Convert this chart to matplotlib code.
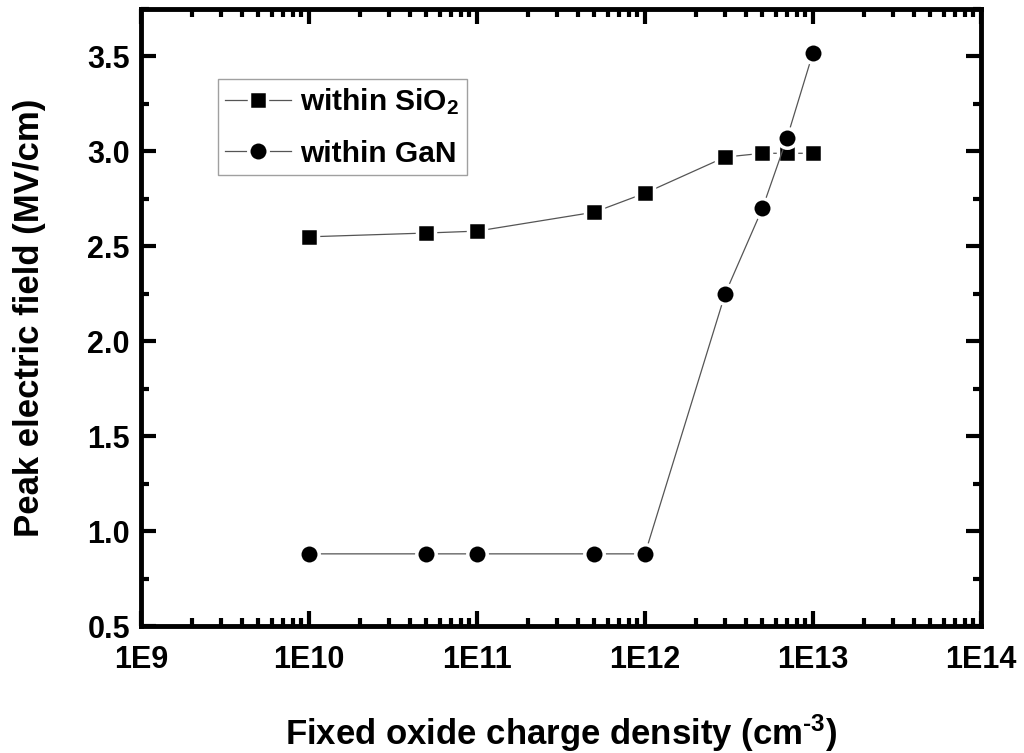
import numpy as np
import matplotlib.pyplot as plt
from matplotlib.ticker import LogLocator, MultipleLocator, FixedFormatter, FixedLocator

plt.rcParams['font.family'] = ['Liberation Sans', 'DejaVu Sans']
plt.rcParams['font.weight'] = 'bold'
plt.rcParams['mathtext.fontset'] = 'custom'
plt.rcParams['mathtext.rm'] = 'Liberation Sans:bold'
plt.rcParams['mathtext.it'] = 'Liberation Sans:bold'
plt.rcParams['mathtext.bf'] = 'Liberation Sans:bold'
plt.rcParams['mathtext.default'] = 'rm'

# data
density = [1e10, 5e10, 1e11, 5e11, 1e12, 3e12, 5e12, 7e12, 1e13]
field_sio2 = [2.55, 2.57, 2.58, 2.68, 2.78, 2.97, 2.99, 2.99, 2.99]
field_gan = [0.88, 0.88, 0.88, 0.88, 0.88, 2.25, 2.70, 3.07, 3.52]
xtick_vals = [1e9, 1e10, 1e11, 1e12, 1e13, 1e14]
xtick_labels = ['1E9', '1E10', '1E11', '1E12', '1E13', '1E14']

fig = plt.figure(figsize=(10.24, 7.53), dpi=100)
ax = fig.add_axes([141 / 1024, 1 - 626 / 753, 840 / 1024, 617 / 753])

ax.plot(density, field_sio2, '-', color='#555555', lw=0.9, marker='s', ms=13,
        mfc='black', mec='white', mew=2.5, label='within SiO$_2$')
ax.plot(density, field_gan, '-', color='#555555', lw=0.9, marker='o', ms=14,
        mfc='black', mec='white', mew=2.5, label='within GaN')

ax.set_xscale('log')
ax.set_xlim(1e9, 1e14)
ax.set_ylim(0.5, 3.75)
ax.xaxis.set_major_locator(FixedLocator(xtick_vals))
ax.xaxis.set_major_formatter(FixedFormatter(xtick_labels))
ax.xaxis.set_minor_locator(LogLocator(base=10, subs=np.arange(2, 10)))
ax.yaxis.set_major_locator(MultipleLocator(0.5))
ax.yaxis.set_minor_locator(MultipleLocator(0.25))
ax.yaxis.set_major_formatter(plt.FormatStrFormatter('%.1f'))

ax.tick_params(which='both', direction='in', top=True, right=True, width=3,
               labelsize=22)
ax.tick_params(axis='x', pad=14)
ax.tick_params(axis='y', pad=8)
ax.tick_params(which='major', length=11)
ax.tick_params(which='minor', length=6)
for s in ax.spines.values():
    s.set_linewidth(3.5)

ax.set_xlabel(r'Fixed oxide charge density (cm$^{\text{-3}}$)', fontsize=25,
              fontweight='bold', labelpad=27)
ax.set_ylabel('Peak electric field (MV/cm)', fontsize=25, fontweight='bold',
              labelpad=30)

leg = ax.legend(loc='upper left', bbox_to_anchor=((218 - 141) / 840, (626 - 79) / 617),
                fontsize=21.5, frameon=True, fancybox=False, edgecolor='#888888',
                borderaxespad=0, handlelength=2.2, borderpad=0.25,
                labelspacing=0.75, handletextpad=0.3)
leg.get_frame().set_linewidth(1)
for t in leg.get_texts():
    t.set_fontweight('bold')

fig.savefig('out.png', dpi=100)
